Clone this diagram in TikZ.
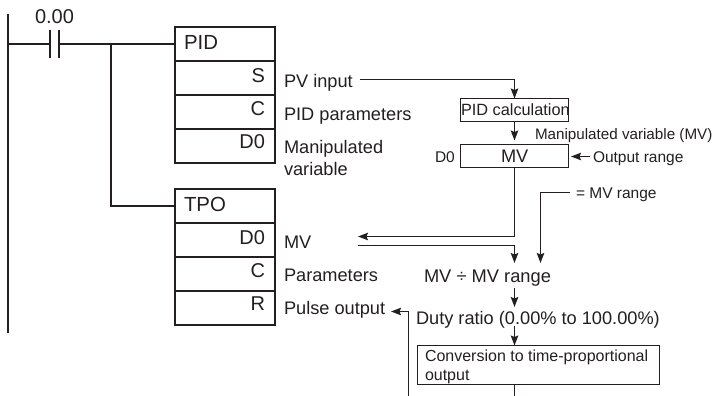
\documentclass[tikz,border=0pt]{standalone}
\usepackage{fontspec}
\setmainfont{Liberation Sans}
\usepackage{xcolor}
\usetikzlibrary{arrows.meta,positioning,calc}
\definecolor{encre}{RGB}{35,31,32}
\tikzset{
  cell/.style={draw=encre, line width=2pt, minimum width=100pt, minimum height=34pt, inner sep=0pt, outer sep=0pt},
  flowbox/.style={draw=encre, line width=1.2pt, inner sep=0pt, outer sep=0pt},
  ladder/.style={draw=encre, line width=2pt},
  flow/.style={draw=encre, line width=1.3pt},
  flowarrow/.style={flow, -{Stealth[length=10pt,width=7.5pt,inset=1.5pt]}},
  txt/.style={inner sep=0pt, outer sep=0pt, text=encre, anchor=base west},
  txtr/.style={inner sep=0pt, outer sep=0pt, text=encre, anchor=base east}
}
\begin{document}
\begin{tikzpicture}[x=1pt,y=-1pt,font=\fontsize{18.2}{20}\selectfont]
\useasboundingbox (0,0) rectangle (712,396);

\foreach \name/\y in {pidname/44,pids/78,pidc/112,pidd/146,tponame/206,tpod/240,tpoc/274,tpor/308} {
  \node[cell] (\name) at (225,\y) {};
}
\foreach \x/\y/\label in {265/82/S,265/115/C,265/148/D0,265/244/D0,265/277/C,265/310/R} {
  \node[txtr, font=\fontsize{20}{20}\selectfont] at (\x,\y) {\label};
}
\node[txt, font=\fontsize{20.4}{20}\selectfont] (pidtitle) at (184,49) {PID};
\node[txt, font=\fontsize{20.4}{20}\selectfont] (tpotitle) at (184,211) {TPO};
\node[txt, font=\fontsize{20}{20}\selectfont] (contactlabel) at (35,24) {0.00};

\coordinate (railtop) at (8,14);
\coordinate (railbot) at (8,333);
\coordinate (railrung) at (8,44);
\coordinate (plateleft) at (49.5,44);
\coordinate (plateright) at (59,44);
\coordinate (branch) at (110.5,44);
\draw[ladder] (railtop) -- (railbot);
\draw[ladder] (railrung) -- (plateleft);
\draw[ladder] (plateright) -- (pidname.west);
\draw[ladder] (branch) |- (tponame.west);
\draw[ladder] ($(plateleft)+(0,-14)$) -- ($(plateleft)+(0,14)$);
\draw[ladder] ($(plateright)+(0,-14)$) -- ($(plateright)+(0,14)$);

\node[txt] (pvinput) at (284,87) {PV input};
\node[txt] at (284,120) {PID parameters};
\node[txt] at (284,153) {Manipulated};
\node[txt] at (284,175) {variable};
\node[txt] (mvin) at (284,248) {MV};
\node[txt] at (284,281) {Parameters};
\node[txt] (pulse) at (284,314) {Pulse output};

\node[flowbox, minimum width=108pt, minimum height=23pt] (pidcalc) at (514.5,110) {};
\node[txt, font=\fontsize{16.3}{18}\selectfont] at (461,115) {PID calculation};
\node[flowbox, minimum width=108pt, minimum height=23pt] (mvbox) at (514.5,156) {};
\node[txt] at (501,162) {MV};
\node[txt, font=\fontsize{15.2}{18}\selectfont] (mvtext) at (535,139) {Manipulated variable (MV)};
\node[txt, font=\fontsize{15.5}{18}\selectfont] (doh) at (435,162) {D0};
\node[txt, font=\fontsize{15.5}{18}\selectfont] (outrange) at (593,162) {Output range};
\node[txt, font=\fontsize{15.5}{18}\selectfont] (mvrange) at (576,198) {= MV range};
\node[txt, font=\fontsize{18.3}{20}\selectfont] (mvdiv) at (424,282) {MV ÷ MV range};
\node[txt, font=\fontsize{18.2}{20}\selectfont] (duty) at (416,324) {Duty ratio (0.00\% to 100.00\%)};
\node[flowbox, minimum width=242pt, minimum height=39pt] (conv) at (538.5,365) {};
\node[txt, font=\fontsize{16}{18}\selectfont] at (425,361) {Conversion to time-proportional};
\node[txt, font=\fontsize{16}{18}\selectfont] at (425,380) {output};

\coordinate (pvstart) at (360,79.5);
\coordinate (calcin) at (pidcalc.north);
\coordinate (mvcorner) at (514.5,236.5);
\coordinate (mvback) at (358,236.5);
\coordinate (mvstart) at (358,245.5);
\coordinate (divin) at (514.5,263);
\coordinate (rangestart) at (570,192.5);
\coordinate (rangein) at (540.5,263);
\coordinate (dutyin) at (514.5,307);
\coordinate (divout) at (514.5,288);
\coordinate (dutyout) at (514.5,326);
\coordinate (convout) at (514.5,384);
\coordinate (convend) at (514.5,396);
\coordinate (pulsestart) at (408.5,396);
\coordinate (pulseend) at (391,311.5);
\coordinate (outstart) at (590,156.5);
\coordinate (outend) at (571,156.5);

\draw[flowarrow] (pvstart) -| (calcin);
\draw[flowarrow, shorten >=4pt] (pidcalc.south) -- (mvbox.north);
\draw[flowarrow] (outstart) -- (outend);
\draw[flowarrow] (mvbox.south) -- (mvcorner) -- (mvback);
\draw[flowarrow] (mvstart) -| (divin);
\draw[flowarrow] (rangestart) -| (rangein);
\draw[flowarrow] (divout) -- (dutyin);
\draw[flowarrow] (dutyout) -- (conv.north -| dutyout);
\draw[flow] (convout) -- (convend);
\draw[flowarrow] (pulsestart) |- (pulseend);
\end{tikzpicture}
\end{document}
